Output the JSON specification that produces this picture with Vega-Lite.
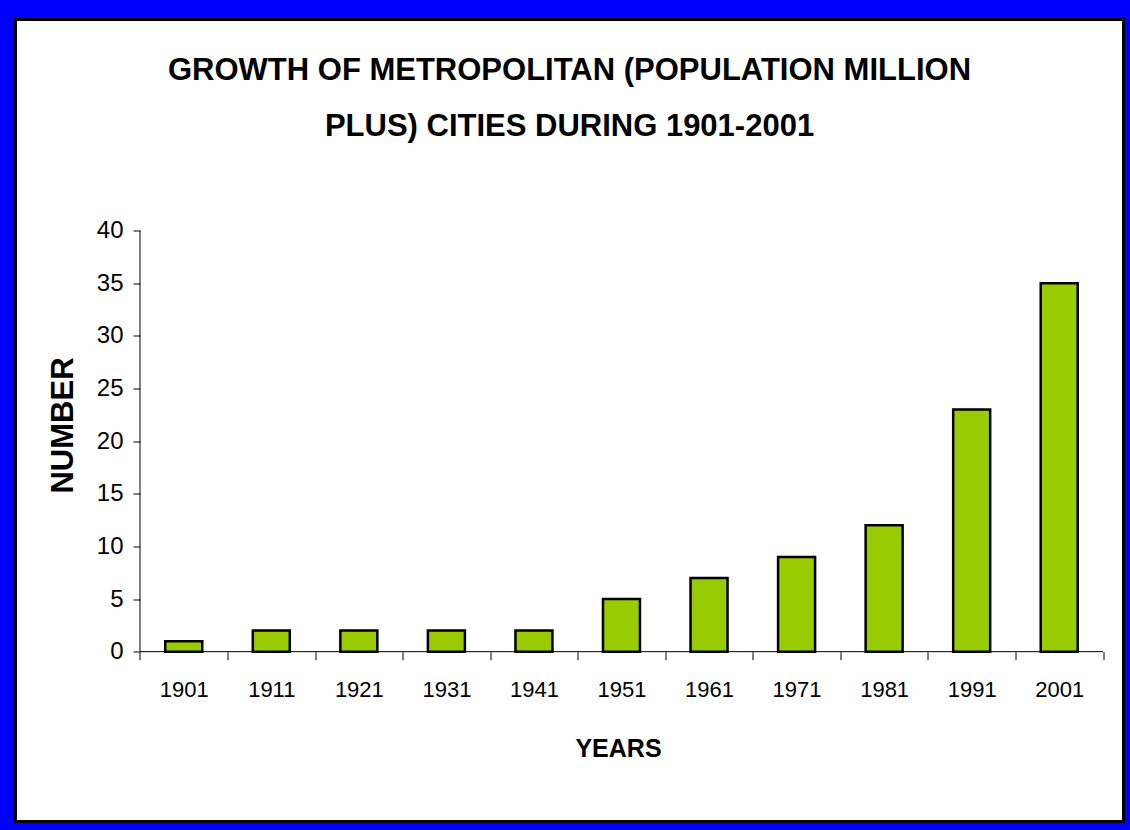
{
  "$schema": "https://vega.github.io/schema/vega-lite/v6.json",
  "width": 1108,
  "height": 802,
  "autosize": {"type": "none"},
  "padding": {"left": 15.5, "top": 19.5, "right": 6.5, "bottom": 8.5},
  "background": "#0000FF",
  "config": {
    "view": {"fill": "white", "stroke": "black", "strokeWidth": 3},
    "font": "Liberation Sans"
  },
  "title": {
    "text": ["GROWTH OF METROPOLITAN (POPULATION MILLION", "PLUS) CITIES DURING 1901-2001"],
    "font": "Liberation Sans",
    "fontSize": 31,
    "fontWeight": "bold",
    "lineHeight": 56,
    "baseline": "top",
    "offset": -123,
    "anchor": "middle",
    "color": "black"
  },
  "data": {
    "values": [
      {"year": "1901", "number": 1},
      {"year": "1911", "number": 2},
      {"year": "1921", "number": 2},
      {"year": "1931", "number": 2},
      {"year": "1941", "number": 2},
      {"year": "1951", "number": 5},
      {"year": "1961", "number": 7},
      {"year": "1971", "number": 9},
      {"year": "1981", "number": 12},
      {"year": "1991", "number": 23},
      {"year": "2001", "number": 35}
    ]
  },
  "layer": [
    {
      "mark": {"type": "bar", "fill": "#99CC00", "stroke": "black", "strokeWidth": 2.5, "width": {"band": 0.4226}},
      "encoding": {
        "x": {
          "field": "year",
          "type": "nominal",
          "scale": {"paddingInner": 0, "paddingOuter": 0.828, "align": 0.8586},
          "axis": {
            "title": "YEARS",
            "offset": -169.8,
            "domain": false,
            "grid": false,
            "tickBand": "extent",
            "tickSize": 8,
            "tickColor": "black",
            "tickWidth": 1,
            "labelAngle": 0,
            "labelFont": "Liberation Sans",
            "labelFontSize": 22,
            "labelColor": "black",
            "labelPadding": 20,
            "titleFont": "Liberation Sans",
            "titleFontSize": 25,
            "titleFontWeight": "bold",
            "titleColor": "black",
            "titleX": 602.5,
            "titleY": 85,
            "titleBaseline": "top",
            "titleAlign": "center"
          }
        },
        "y": {
          "field": "number",
          "type": "quantitative",
          "scale": {"domain": [-16.13, 60.04], "nice": false},
          "axis": {
            "title": "NUMBER",
            "values": [0, 5, 10, 15, 20, 25, 30, 35, 40],
            "offset": -124.5,
            "domain": false,
            "grid": false,
            "tickSize": 7,
            "tickColor": "black",
            "tickWidth": 1,
            "labelFont": "Liberation Sans",
            "labelFontSize": 24,
            "labelColor": "black",
            "labelPadding": 10,
            "labelFlush": false,
            "labelOverlap": false,
            "titleFont": "Liberation Sans",
            "titleFontSize": 31,
            "titleFontWeight": "bold",
            "titleColor": "black",
            "titleX": -77,
            "titleY": 405.5,
            "titleAngle": -90,
            "titleBaseline": "middle",
            "titleAlign": "center"
          }
        }
      }
    },
    {
      "data": {"values": [{}]},
      "mark": {"type": "rule", "color": "black", "strokeWidth": 1},
      "encoding": {
        "x": {"datum": "1901", "type": "nominal", "bandPosition": 0},
        "y": {"datum": 0, "type": "quantitative"},
        "y2": {"datum": 40}
      }
    },
    {
      "data": {"values": [{}]},
      "mark": {"type": "rule", "color": "black", "strokeWidth": 1},
      "encoding": {
        "x": {"datum": "1901", "type": "nominal", "bandPosition": 0},
        "x2": {"datum": "2001", "bandPosition": 1},
        "y": {"datum": 0, "type": "quantitative"}
      }
    }
  ]
}
